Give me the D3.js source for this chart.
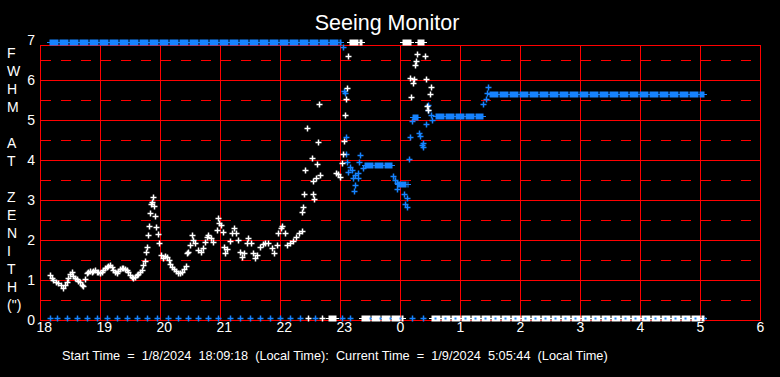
<!DOCTYPE html>
<html>
<head>
<meta charset="utf-8">
<script src="https://cdn.jsdelivr.net/npm/d3@7/dist/d3.min.js"></script>
<style>
  html, body { margin: 0; padding: 0; background: #000; }
  svg { display: block; font-family: "Liberation Sans", Arial, sans-serif; }
</style>
</head>
<body>
<div id="chart"></div>
<script>
(function () {
  "use strict";

  // ---- data (clock times, FWHM in arcsec) ----
  const hourTicks = [18, 19, 20, 21, 22, 23, 24, 25, 26, 27, 28, 29, 30];
  const valueTicks = [0, 1, 2, 3, 4, 5, 6, 7];
  const halfTicks = [0.5, 1.5, 2.5, 3.5, 4.5, 5.5, 6.5];
  const axisLetters = ["F", "W", "H", "M", "", "A", "T", "", "Z", "E", "N", "I", "T", "H", "(\")"];

  // white series: single samples
  const whitePoints = [
    ["18:10", 1.12], ["18:12", 1.06], ["18:13", 1.0], ["18:16", 0.96], ["18:18", 0.92],
    ["18:21", 0.88], ["18:23", 0.81], ["18:25", 0.88], ["18:27", 0.96], ["18:28", 1.06],
    ["18:30", 1.14], ["18:32", 1.19], ["18:33", 1.11], ["18:35", 1.04], ["18:37", 1.03],
    ["18:38", 0.98], ["18:40", 0.94], ["18:42", 0.88], ["18:43", 0.86], ["18:45", 1.02],
    ["18:47", 1.17], ["18:48", 1.19], ["18:50", 1.22], ["18:52", 1.19], ["18:53", 1.22],
    ["18:55", 1.25], ["18:57", 1.21], ["18:58", 1.19], ["19:00", 1.17], ["19:02", 1.19],
    ["19:03", 1.25], ["19:05", 1.31], ["19:07", 1.33], ["19:08", 1.36], ["19:10", 1.38],
    ["19:12", 1.33], ["19:13", 1.25], ["19:15", 1.19], ["19:17", 1.17], ["19:18", 1.22],
    ["19:20", 1.27], ["19:22", 1.31], ["19:23", 1.29], ["19:25", 1.27], ["19:27", 1.25],
    ["19:28", 1.19], ["19:30", 1.12], ["19:32", 1.08], ["19:33", 1.06], ["19:35", 1.08],
    ["19:37", 1.12], ["19:38", 1.14], ["19:40", 1.19], ["19:42", 1.25], ["19:43", 1.38],
    ["19:45", 1.48], ["19:46", 1.71], ["19:47", 1.83], ["19:48", 2.12], ["19:49", 2.36],
    ["19:50", 2.67], ["19:51", 2.89], ["19:52", 2.96], ["19:53", 3.07], ["19:54", 2.86],
    ["19:55", 2.61], ["19:56", 2.33], ["19:58", 2.14], ["19:59", 1.92], ["20:01", 1.62],
    ["20:03", 1.56], ["20:05", 1.61], ["20:07", 1.58], ["20:09", 1.5], ["20:10", 1.4],
    ["20:12", 1.33], ["20:14", 1.27], ["20:16", 1.22], ["20:18", 1.18], ["20:20", 1.17],
    ["20:22", 1.21], ["20:24", 1.27], ["20:26", 1.35], ["20:27", 1.67], ["20:28", 1.71],
    ["20:30", 1.88], ["20:32", 2.12], ["20:33", 2.0], ["20:35", 1.92], ["20:38", 1.75],
    ["20:41", 1.69], ["20:43", 1.79], ["20:45", 1.96], ["20:47", 2.08], ["20:48", 2.12],
    ["20:51", 2.04], ["20:53", 1.96], ["20:57", 2.25], ["20:58", 2.54], ["20:59", 2.43],
    ["21:01", 2.37], ["21:03", 2.21], ["21:04", 1.83], ["21:05", 1.67], ["21:07", 1.77],
    ["21:10", 1.98], ["21:12", 2.17], ["21:14", 2.29], ["21:16", 2.17], ["21:18", 2.0],
    ["21:20", 1.71], ["21:22", 1.58], ["21:24", 1.67], ["21:27", 1.92], ["21:28", 2.04],
    ["21:31", 1.92], ["21:33", 1.67], ["21:35", 1.54], ["21:37", 1.62], ["21:40", 1.83],
    ["21:43", 1.9], ["21:45", 1.92], ["21:48", 1.92], ["21:52", 1.79], ["21:54", 1.68],
    ["21:57", 1.88], ["21:58", 2.17], ["22:01", 2.29], ["22:02", 2.35], ["22:05", 2.17],
    ["22:07", 1.88], ["22:10", 1.92], ["22:13", 1.98], ["22:16", 2.07], ["22:19", 2.17],
    ["22:22", 2.23], ["22:22", 2.7], ["22:23", 2.83], ["22:24", 3.15], ["22:25", 3.75],
    ["22:27", 4.8], ["22:32", 4.05], ["22:33", 3.15], ["22:33", 3.48], ["22:34", 3.02],
    ["22:36", 3.55], ["22:37", 3.9], ["22:38", 4.45], ["22:39", 5.4], ["22:40", 3.62],
    ["22:56", 3.68], ["22:58", 3.65], ["23:00", 3.58], ["23:02", 3.92], ["23:03", 4.15],
    ["23:04", 4.47], ["23:05", 5.12], ["23:06", 5.52], ["23:07", 5.8], ["23:08", 6.6],
    ["00:10", 6.05], ["00:11", 5.57], ["00:13", 5.93], ["00:14", 6.03], ["00:15", 6.37],
    ["00:16", 6.48], ["00:17", 6.65], ["00:25", 6.6], ["00:26", 6.03], ["00:27", 5.35],
    ["00:28", 5.25], ["00:30", 5.65], ["00:31", 5.83]
  ];
  // white series: continuous stretches of samples [from, to, value]
  const whiteRuns = [
    ["23:10", "23:22", 6.95], ["00:03", "00:11", 6.95], ["00:18", "00:24", 6.95],
    ["22:49", "22:56", 0.05], ["23:22", "00:03", 0.05], ["00:32", "05:04", 0.05]
  ];
  const whiteZeroTimes = ["22:28", "22:42"];

  // blue series
  const bluePoints = [
    ["23:03", 6.83], ["23:04", 5.73], ["23:05", 5.67], ["23:06", 4.57], ["23:06", 4.15],
    ["23:07", 3.95], ["23:08", 3.7], ["23:10", 3.83], ["23:12", 3.75], ["23:13", 3.55],
    ["23:14", 3.23], ["23:15", 3.62], ["23:15", 3.37], ["23:18", 3.67], ["23:18", 3.55],
    ["23:19", 3.95], ["23:20", 4.12], ["23:23", 3.8], ["23:53", 3.6], ["23:55", 3.5],
    ["23:57", 3.42], ["23:57", 3.27], ["00:04", 3.15], ["00:05", 2.9], ["00:07", 3.05],
    ["00:07", 2.82], ["00:09", 4.02], ["00:10", 4.57], ["00:12", 4.97], ["00:19", 4.67],
    ["00:20", 4.6], ["00:22", 4.37], ["00:23", 4.42], ["00:23", 4.33], ["00:26", 4.9],
    ["00:28", 5.37], ["00:28", 5.25], ["00:31", 5.12], ["00:32", 5.0], ["01:23", 5.4],
    ["01:26", 5.52], ["01:27", 5.67], ["01:28", 5.82]
  ];
  const blueRuns = [
    ["18:10", "23:01", 6.95], ["23:25", "23:52", 3.87], ["23:58", "00:08", 3.4],
    ["00:13", "00:18", 5.07], ["00:36", "01:23", 5.1], ["01:30", "05:04", 5.65]
  ];
  const blueZeroTimes = [
    "18:10", "18:17", "18:27", "18:37", "18:47", "18:57", "19:07", "19:17", "19:27", "19:37",
    "19:47", "19:57", "20:08", "20:18", "20:28", "20:38", "20:48", "20:58", "21:10", "21:20",
    "21:30", "21:40", "21:50", "22:00", "22:10", "22:20", "22:35", "23:02", "23:10", "23:30",
    "23:40", "23:50", "00:00", "00:12", "00:23", "00:35", "00:45", "00:55", "01:05", "01:15",
    "01:25", "01:35", "01:45", "01:55", "02:05", "02:15", "02:25", "02:35", "02:45", "02:55",
    "03:05", "03:15", "03:25", "03:35", "03:45", "03:55", "04:05", "04:15", "04:25", "04:35",
    "04:45", "04:55", "05:05"
  ];

  const titleText = "Seeing Monitor";
  const footerText = "Start Time  =  1/8/2024  18:09:18  (Local Time):  Current Time  =  1/9/2024  5:05:44  (Local Time)";

  // ---- layout ----
  const width = 780;
  const height = 377;
  const FLOOR = 0.05;
  const WHITE = "#ffffff";
  const BLUE = "#1683ff";
  const RED = "#ff0000";

  function clockToHour(s) {
    const parts = s.split(":").map(Number);
    let h = parts[0] + parts[1] / 60;
    if (h < 12) h += 24;
    return h;
  }

  const x = d3.scaleLinear().domain([18, 30]).range([40, 760]);
  const y = d3.scaleLinear().domain([0, 7]).range([320, 40]);

  const svg = d3.select("#chart").append("svg")
    .attr("width", width)
    .attr("height", height)
    .attr("viewBox", `0 0 ${width} ${height}`);

  svg.append("rect").attr("width", width).attr("height", height).attr("fill", "#000");

  const plotTop = 45;

  // grid
  const grid = svg.append("g").attr("stroke", RED).attr("shape-rendering", "crispEdges");
  grid.selectAll(".hgrid").data(valueTicks.filter((v) => v > 0 && v < 7)).join("line")
    .attr("x1", x(18)).attr("x2", x(30))
    .attr("y1", (d) => y(d)).attr("y2", (d) => y(d));
  grid.selectAll(".dgrid").data(halfTicks).join("line")
    .attr("x1", x(18) + 1).attr("x2", x(30))
    .attr("y1", (d) => y(d)).attr("y2", (d) => y(d))
    .attr("stroke-dasharray", "10,10");
  grid.selectAll(".vgrid").data(hourTicks.slice(1, -1)).join("line")
    .attr("x1", (d) => x(d)).attr("x2", (d) => x(d))
    .attr("y1", plotTop).attr("y2", y(0));
  grid.append("rect")
    .attr("x", x(18)).attr("y", plotTop)
    .attr("width", x(30) - x(18)).attr("height", y(0) - plotTop)
    .attr("fill", "none");

  function plusPath(px, py) {
    return `M${px - 3},${py}H${px + 3}M${px},${py - 3}V${py + 3}`;
  }

  function drawRuns(layer, runs, color) {
    const g = layer.append("g").attr("stroke", color);
    runs.forEach((r) => {
      const x0 = x(clockToHour(r[0]));
      const x1 = x(clockToHour(r[1]));
      const yy = Math.round(y(r[2]));
      g.append("line")
        .attr("x1", x0 - 3).attr("x2", x1 + 3)
        .attr("y1", yy + 0.5).attr("y2", yy + 0.5)
        .attr("stroke-width", 1);
      g.append("line")
        .attr("x1", x0 - 0.5).attr("x2", x1 + 0.5)
        .attr("y1", yy + 0.5).attr("y2", yy + 0.5)
        .attr("stroke-width", 6)
        .attr("stroke-dasharray", "9,1");
    });
  }

  function drawPoints(layer, pts, color) {
    layer.append("path")
      .attr("fill", "none")
      .attr("stroke", color)
      .attr("stroke-width", 1.5)
      .attr("d", pts.map((p) => plusPath(Math.round(x(clockToHour(p[0]))) + 0.5, Math.round(y(p[1])) + 0.5)).join(""));
  }

  const marks = svg.append("g");

  // blue series
  drawRuns(marks, blueRuns, BLUE);
  drawPoints(marks, bluePoints, BLUE);

  // white series
  drawRuns(marks, whiteRuns, WHITE);
  drawPoints(marks, whitePoints, WHITE);
  drawPoints(marks, whiteZeroTimes.map((t) => [t, FLOOR]), WHITE);

  // blue samples at zero; inside a white stretch only the centre shows through
  const whiteFloorRuns = whiteRuns.filter((r) => r[2] < 1).map((r) => [clockToHour(r[0]), clockToHour(r[1])]);
  function underWhite(h) {
    return whiteFloorRuns.some((r) => h >= r[0] - 0.02 && h <= r[1] + 0.02);
  }
  const blueZero = blueZeroTimes.map((t) => [t, FLOOR]);
  drawPoints(marks, blueZero.filter((p) => !underWhite(clockToHour(p[0]))), BLUE);
  marks.append("g").attr("fill", BLUE)
    .selectAll("rect")
    .data(blueZero.filter((p) => underWhite(clockToHour(p[0]))))
    .join("rect")
    .attr("x", (d) => Math.round(x(clockToHour(d[0]))) - 0.5)
    .attr("y", Math.round(y(FLOOR)) - 0.5)
    .attr("width", 2).attr("height", 2);

  // y axis labels
  const yAxis = d3.axisLeft(y).tickValues(valueTicks).tickSize(0).tickPadding(0).tickFormat(d3.format("d"));
  const yg = svg.append("g").attr("transform", "translate(35,0)").call(yAxis);
  yg.select(".domain").remove();
  yg.selectAll("text").attr("fill", WHITE).attr("font-size", 14)
    .attr("font-family", "Liberation Sans, Arial, sans-serif");

  // x axis labels
  const xAxis = d3.axisBottom(x).tickValues(hourTicks).tickSize(0).tickFormat((d) => String(d % 24));
  const xg = svg.append("g").attr("transform", `translate(0,${y(0)})`).call(xAxis);
  xg.select(".domain").remove();
  xg.selectAll("text")
    .attr("fill", WHITE).attr("font-size", 14)
    .attr("font-family", "Liberation Sans, Arial, sans-serif")
    .attr("text-anchor", "start")
    .attr("x", -4)
    .attr("y", 2)
    .attr("dy", "0.71em");

  // vertical axis title, one letter per row
  svg.append("g").selectAll("text").data(axisLetters).join("text")
    .attr("x", 7)
    .attr("y", (d, i) => 58 + i * 18)
    .attr("fill", WHITE)
    .attr("font-size", 14)
    .text((d) => d);

  svg.append("text")
    .attr("x", 387).attr("y", 30)
    .attr("text-anchor", "middle")
    .attr("fill", WHITE)
    .attr("font-size", 21.5)
    .text(titleText);

  svg.append("text")
    .attr("x", 62).attr("y", 359.5)
    .attr("fill", WHITE)
    .attr("font-size", 12.75)
    .style("white-space", "pre")
    .text(footerText);
})();
</script>
</body>
</html>
